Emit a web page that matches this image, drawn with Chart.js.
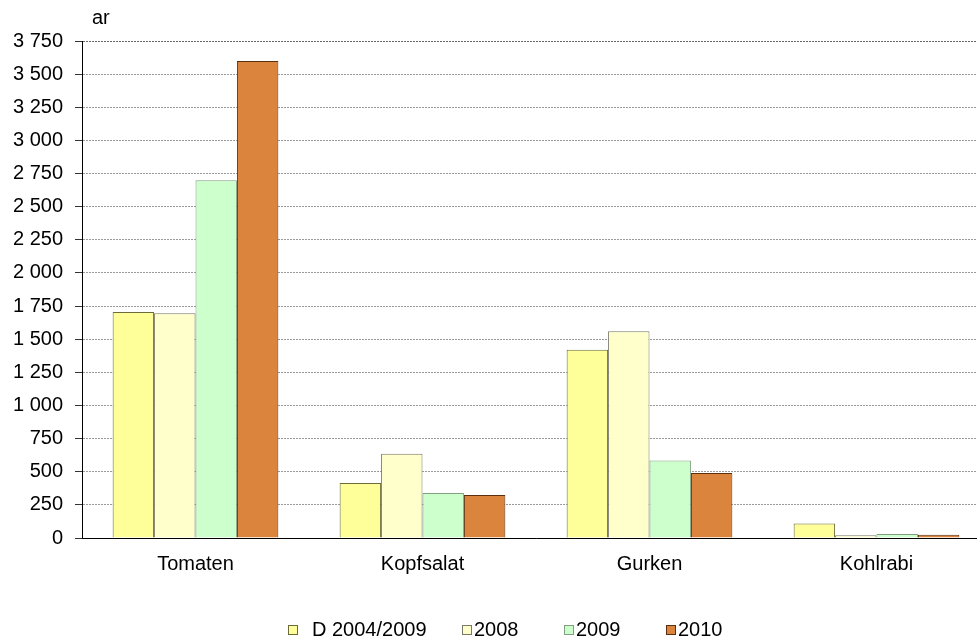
<!DOCTYPE html>
<html>
<head>
<meta charset="utf-8">
<script src="https://cdn.jsdelivr.net/npm/chart.js@4"></script>
<style>
  html, body { margin: 0; padding: 0; background: #fff; overflow: hidden; }
  #wrap { position: relative; width: 1000px; height: 639px; }
  #unit { position: absolute; left: 92px; top: 7px; font: 20px/20px "Liberation Sans", Arial, sans-serif; color: #000; }
  #legend { position: absolute; left: 0; top: 619px; width: 1000px; height: 20px; font: 20px/20px "Liberation Sans", Arial, sans-serif; color: #000; }
  #legend span.item { position: absolute; white-space: pre; }
  #legend span.box { position: absolute; width: 8px; height: 8px; top: 6px; border: 1px solid #555; }
</style>
</head>
<body>
<div id="wrap">
  <canvas id="c" width="1000" height="639"></canvas>
  <div id="unit">ar</div>
  <div id="legend"></div>
</div>
<script>
/* Anbauflächen Gemüse (ar) */
const categories = ['Tomaten', 'Kopfsalat', 'Gurken', 'Kohlrabi'];
const seriesLabels = ['D 2004/2009', '2008', '2009', '2010'];
const avg0409 = [1705, 415, 1420, 110];
const y2008   = [1695, 635, 1560, 20];
const y2009   = [2700, 340, 585, 30];
const y2010   = [3600, 325, 490, 25];
const yTicks  = [0, 250, 500, 750, 1000, 1250, 1500, 1750, 2000, 2250, 2500, 2750, 3000, 3250, 3500, 3750];

const fills   = ['#FFFF99', '#FFFFCC', '#CCFFCC', '#DB843D'];
const borders = ['#6B6B3A', '#7A7A6A', '#7F9F7F', '#5A3010'];

const FONT = { family: '"Liberation Sans", Arial, sans-serif', size: 20 };

function fmt(v) {
  return String(v).replace(/\B(?=(\d{3})+(?!\d))/g, ' ');
}

const seriesData = [avg0409, y2008, y2009, y2010];

new Chart(document.getElementById('c'), {
  type: 'bar',
  data: {
    labels: categories,
    datasets: seriesData.map((d, i) => ({
      label: seriesLabels[i],
      data: d,
      backgroundColor: fills[i],
      borderColor: borders[i],
      borderWidth: 1,
      borderSkipped: 'bottom',
      categoryPercentage: 0.73,
      barPercentage: 1.0,
    }))
  },
  options: {
    responsive: false,
    animation: false,
    events: [],
    layout: { padding: { left: 0, right: 10, top: 41, bottom: 0 } },
    plugins: { legend: { display: false }, tooltip: { enabled: false } },
    scales: {
      x: {
        grid: { display: false, drawTicks: false },
        border: { color: '#000', width: 1 },
        ticks: { color: '#000', font: FONT, padding: 14, maxRotation: 0 },
        afterFit: (s) => { s.height = 101; }
      },
      y: {
        min: 0,
        max: 3750,
        afterBuildTicks: (s) => { s.ticks = yTicks.map(v => ({ value: v })); },
        ticks: { color: '#000', font: FONT, padding: 12, callback: (v) => fmt(v) },
        grid: {
          color: (ctx) => ctx.index === yTicks.length - 1 ? '#666' : '#9a9a9a',
          lineWidth: 1,
          tickLength: 7,
          tickColor: '#333'
        },
        border: { color: '#000', width: 1, dash: [2, 1] },
        afterFit: (s) => { s.width = 82; }
      }
    }
  }
});

/* Legende manuell (Abstände wie im Original) */
const boxX  = [288, 462, 564, 666];
const textX = [312, 474, 576, 678];
const leg = document.getElementById('legend');
seriesLabels.forEach((lab, i) => {
  const b = document.createElement('span');
  b.className = 'box';
  b.style.left = boxX[i] + 'px';
  b.style.background = fills[i];
  b.style.borderColor = borders[i];
  leg.appendChild(b);
  const t = document.createElement('span');
  t.className = 'item';
  t.style.left = textX[i] + 'px';
  t.textContent = lab;
  leg.appendChild(t);
});
</script>
</body>
</html>
